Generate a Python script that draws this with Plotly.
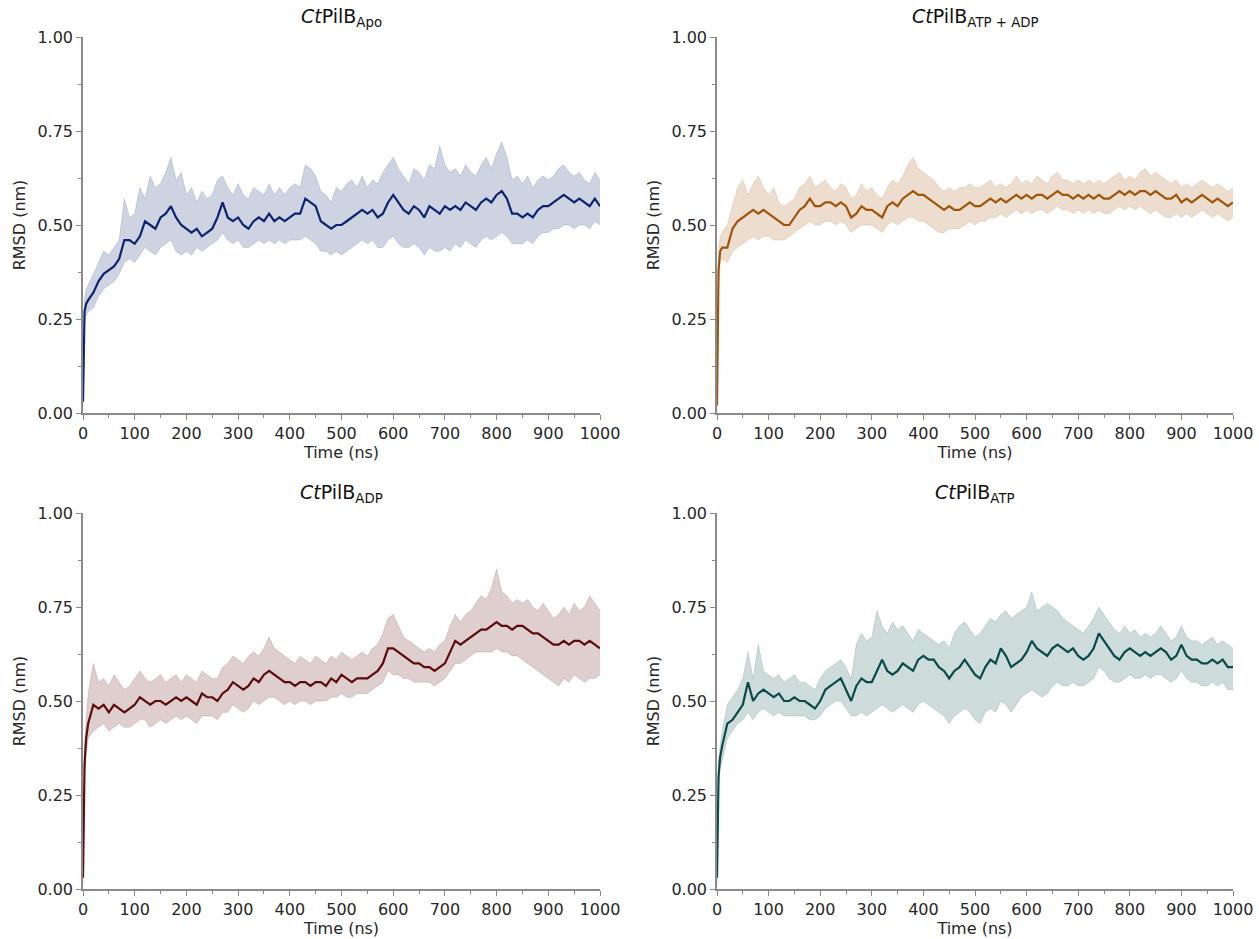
import plotly.graph_objects as go

# ---------------- data ----------------
TIME_NS = [0, 3, 6] + list(range(10, 1001, 10))

TITLES = ["<i>Ct</i>PilB<sub>Apo</sub>", "<i>Ct</i>PilB<sub>ATP + ADP</sub>",
          "<i>Ct</i>PilB<sub>ADP</sub>", "<i>Ct</i>PilB<sub>ATP</sub>"]

APO_MEAN = [0.03, 0.27, 0.29,
 0.30, 0.32, 0.35, 0.37, 0.38, 0.39, 0.41, 0.46, 0.46, 0.45,
 0.47, 0.51, 0.50, 0.49, 0.52, 0.53, 0.55, 0.52, 0.50, 0.49,
 0.48, 0.49, 0.47, 0.48, 0.49, 0.52, 0.56, 0.52, 0.51, 0.52,
 0.50, 0.49, 0.51, 0.52, 0.51, 0.53, 0.51, 0.52, 0.51, 0.52,
 0.53, 0.53, 0.57, 0.56, 0.55, 0.51, 0.50, 0.49, 0.50, 0.50,
 0.51, 0.52, 0.53, 0.54, 0.53, 0.54, 0.52, 0.53, 0.56, 0.58,
 0.56, 0.54, 0.53, 0.55, 0.54, 0.52, 0.55, 0.54, 0.53, 0.55,
 0.54, 0.55, 0.54, 0.56, 0.55, 0.54, 0.56, 0.57, 0.56, 0.58,
 0.59, 0.57, 0.53, 0.53, 0.52, 0.53, 0.52, 0.54, 0.55, 0.55,
 0.56, 0.57, 0.58, 0.57, 0.56, 0.57, 0.56, 0.55, 0.57, 0.55]
APO_UP = [0.05, 0.30, 0.33,
 0.34, 0.37, 0.40, 0.43, 0.42, 0.44, 0.46, 0.57, 0.52, 0.53,
 0.60, 0.57, 0.63, 0.60, 0.61, 0.64, 0.68, 0.62, 0.64, 0.58,
 0.60, 0.56, 0.59, 0.57, 0.58, 0.62, 0.63, 0.60, 0.58, 0.61,
 0.58, 0.57, 0.60, 0.59, 0.58, 0.61, 0.58, 0.60, 0.58, 0.60,
 0.61, 0.60, 0.66, 0.65, 0.63, 0.59, 0.58, 0.56, 0.60, 0.59,
 0.61, 0.62, 0.60, 0.63, 0.60, 0.62, 0.61, 0.64, 0.66, 0.68,
 0.65, 0.63, 0.61, 0.65, 0.64, 0.62, 0.66, 0.65, 0.71, 0.66,
 0.64, 0.65, 0.63, 0.66, 0.64, 0.63, 0.66, 0.68, 0.65, 0.69,
 0.72, 0.68, 0.62, 0.63, 0.61, 0.63, 0.60, 0.62, 0.63, 0.62,
 0.63, 0.65, 0.66, 0.64, 0.63, 0.64, 0.62, 0.61, 0.64, 0.62]
APO_LO = [0.01, 0.24, 0.26,
 0.27, 0.28, 0.31, 0.33, 0.34, 0.35, 0.37, 0.40, 0.41, 0.40,
 0.42, 0.44, 0.43, 0.42, 0.44, 0.45, 0.46, 0.43, 0.42, 0.43,
 0.42, 0.44, 0.43, 0.44, 0.45, 0.46, 0.48, 0.46, 0.45, 0.46,
 0.44, 0.44, 0.45, 0.46, 0.45, 0.46, 0.45, 0.46, 0.45, 0.46,
 0.46, 0.46, 0.47, 0.46, 0.45, 0.43, 0.43, 0.42, 0.43, 0.42,
 0.43, 0.44, 0.45, 0.46, 0.45, 0.46, 0.44, 0.44, 0.46, 0.47,
 0.45, 0.44, 0.44, 0.45, 0.44, 0.42, 0.44, 0.43, 0.43, 0.44,
 0.43, 0.45, 0.44, 0.46, 0.45, 0.44, 0.46, 0.47, 0.46, 0.47,
 0.48, 0.47, 0.45, 0.45, 0.45, 0.46, 0.45, 0.47, 0.48, 0.48,
 0.49, 0.49, 0.50, 0.50, 0.49, 0.50, 0.50, 0.49, 0.51, 0.50]

ATPADP_MEAN = [0.02, 0.38, 0.43,
 0.44, 0.44, 0.49, 0.51, 0.52, 0.53, 0.54, 0.53, 0.54, 0.53,
 0.52, 0.51, 0.50, 0.50, 0.52, 0.54, 0.55, 0.57, 0.55, 0.55,
 0.56, 0.56, 0.55, 0.56, 0.55, 0.52, 0.53, 0.55, 0.54, 0.54,
 0.53, 0.52, 0.55, 0.56, 0.55, 0.57, 0.58, 0.59, 0.58, 0.58,
 0.57, 0.56, 0.55, 0.54, 0.55, 0.54, 0.54, 0.55, 0.56, 0.55,
 0.55, 0.56, 0.57, 0.56, 0.57, 0.56, 0.57, 0.58, 0.57, 0.58,
 0.57, 0.58, 0.58, 0.57, 0.58, 0.59, 0.58, 0.58, 0.57, 0.58,
 0.57, 0.58, 0.57, 0.58, 0.57, 0.57, 0.58, 0.59, 0.58, 0.59,
 0.58, 0.59, 0.59, 0.58, 0.59, 0.58, 0.57, 0.57, 0.58, 0.56,
 0.57, 0.56, 0.57, 0.58, 0.57, 0.56, 0.57, 0.56, 0.55, 0.56]
ATPADP_UP = [0.04, 0.42, 0.47,
 0.48, 0.50, 0.55, 0.60, 0.62, 0.58, 0.61, 0.63, 0.60, 0.58,
 0.60, 0.56, 0.55, 0.56, 0.57, 0.60, 0.61, 0.63, 0.60, 0.61,
 0.62, 0.60, 0.59, 0.61, 0.60, 0.57, 0.58, 0.61, 0.59, 0.60,
 0.58, 0.57, 0.60, 0.62, 0.61, 0.63, 0.66, 0.68, 0.65, 0.64,
 0.63, 0.62, 0.60, 0.59, 0.60, 0.59, 0.60, 0.60, 0.61, 0.60,
 0.60, 0.61, 0.62, 0.60, 0.61, 0.60, 0.61, 0.63, 0.61, 0.62,
 0.61, 0.63, 0.62, 0.61, 0.63, 0.64, 0.62, 0.62, 0.61, 0.62,
 0.61, 0.62, 0.61, 0.62, 0.61, 0.62, 0.63, 0.64, 0.62, 0.63,
 0.62, 0.64, 0.65, 0.63, 0.64, 0.63, 0.62, 0.61, 0.62, 0.60,
 0.61, 0.60, 0.61, 0.62, 0.61, 0.60, 0.61, 0.60, 0.59, 0.60]
ATPADP_LO = [0.00, 0.34, 0.40,
 0.41, 0.40, 0.43, 0.44, 0.45, 0.46, 0.47, 0.46, 0.47, 0.47,
 0.46, 0.46, 0.46, 0.47, 0.48, 0.49, 0.50, 0.51, 0.50, 0.50,
 0.51, 0.51, 0.50, 0.51, 0.50, 0.48, 0.49, 0.50, 0.50, 0.50,
 0.49, 0.48, 0.50, 0.51, 0.50, 0.51, 0.52, 0.52, 0.51, 0.51,
 0.50, 0.49, 0.48, 0.48, 0.49, 0.49, 0.49, 0.50, 0.51, 0.50,
 0.51, 0.51, 0.52, 0.52, 0.53, 0.52, 0.53, 0.54, 0.53, 0.54,
 0.53, 0.54, 0.54, 0.53, 0.54, 0.55, 0.54, 0.54, 0.53, 0.54,
 0.53, 0.54, 0.53, 0.54, 0.53, 0.53, 0.54, 0.55, 0.54, 0.55,
 0.54, 0.55, 0.54, 0.53, 0.54, 0.53, 0.52, 0.52, 0.53, 0.52,
 0.53, 0.52, 0.53, 0.54, 0.53, 0.52, 0.53, 0.52, 0.51, 0.52]

ADP_MEAN = [0.03, 0.33, 0.40,
 0.44, 0.49, 0.48, 0.49, 0.47, 0.49, 0.48, 0.47, 0.48, 0.49,
 0.51, 0.50, 0.49, 0.50, 0.50, 0.49, 0.50, 0.51, 0.50, 0.51,
 0.50, 0.49, 0.52, 0.51, 0.51, 0.50, 0.52, 0.53, 0.55, 0.54,
 0.53, 0.54, 0.56, 0.55, 0.57, 0.58, 0.57, 0.56, 0.55, 0.55,
 0.54, 0.55, 0.55, 0.54, 0.55, 0.55, 0.54, 0.56, 0.55, 0.57,
 0.56, 0.55, 0.56, 0.56, 0.56, 0.57, 0.58, 0.60, 0.64, 0.64,
 0.63, 0.62, 0.61, 0.60, 0.60, 0.59, 0.59, 0.58, 0.59, 0.60,
 0.63, 0.66, 0.65, 0.66, 0.67, 0.68, 0.69, 0.69, 0.70, 0.71,
 0.70, 0.70, 0.69, 0.70, 0.70, 0.69, 0.68, 0.68, 0.67, 0.66,
 0.65, 0.65, 0.66, 0.65, 0.66, 0.66, 0.65, 0.66, 0.65, 0.64]
ADP_UP = [0.06, 0.38, 0.45,
 0.52, 0.60, 0.55, 0.56, 0.54, 0.57, 0.55, 0.53, 0.54, 0.56,
 0.58, 0.56, 0.55, 0.56, 0.57, 0.55, 0.56, 0.57, 0.55, 0.57,
 0.56, 0.55, 0.58, 0.57, 0.56, 0.56, 0.59, 0.60, 0.62, 0.61,
 0.60, 0.62, 0.63, 0.62, 0.64, 0.67, 0.64, 0.63, 0.62, 0.61,
 0.60, 0.62, 0.61, 0.60, 0.62, 0.61, 0.60, 0.62, 0.61, 0.63,
 0.62, 0.61, 0.62, 0.63, 0.62, 0.64, 0.65, 0.68, 0.72, 0.73,
 0.70, 0.67, 0.66, 0.65, 0.64, 0.63, 0.64, 0.63, 0.65, 0.66,
 0.70, 0.73, 0.71, 0.73, 0.74, 0.76, 0.78, 0.77, 0.80, 0.85,
 0.79, 0.78, 0.76, 0.77, 0.76, 0.77, 0.75, 0.74, 0.76, 0.74,
 0.72, 0.73, 0.75, 0.73, 0.76, 0.74, 0.75, 0.78, 0.76, 0.74]
ADP_LO = [0.01, 0.29, 0.36,
 0.40, 0.42, 0.43, 0.44, 0.42, 0.43, 0.44, 0.43, 0.43, 0.44,
 0.45, 0.45, 0.43, 0.44, 0.45, 0.44, 0.45, 0.46, 0.45, 0.46,
 0.45, 0.44, 0.46, 0.46, 0.46, 0.45, 0.47, 0.47, 0.49, 0.48,
 0.47, 0.48, 0.50, 0.49, 0.50, 0.51, 0.51, 0.50, 0.49, 0.50,
 0.49, 0.50, 0.50, 0.49, 0.50, 0.50, 0.50, 0.51, 0.51, 0.52,
 0.51, 0.51, 0.52, 0.52, 0.52, 0.53, 0.54, 0.55, 0.58, 0.57,
 0.57, 0.56, 0.56, 0.55, 0.55, 0.55, 0.55, 0.54, 0.55, 0.56,
 0.58, 0.60, 0.60, 0.61, 0.62, 0.63, 0.63, 0.63, 0.63, 0.64,
 0.63, 0.63, 0.62, 0.62, 0.61, 0.60, 0.59, 0.58, 0.57, 0.56,
 0.55, 0.54, 0.56, 0.55, 0.57, 0.56, 0.55, 0.56, 0.56, 0.57]

ATP_MEAN = [0.03, 0.30, 0.35,
 0.38, 0.44, 0.45, 0.47, 0.49, 0.55, 0.50, 0.52, 0.53, 0.52,
 0.51, 0.52, 0.50, 0.50, 0.51, 0.50, 0.50, 0.49, 0.48, 0.50,
 0.53, 0.54, 0.55, 0.56, 0.53, 0.50, 0.54, 0.56, 0.55, 0.55,
 0.58, 0.61, 0.58, 0.57, 0.58, 0.60, 0.59, 0.58, 0.61, 0.62,
 0.61, 0.61, 0.59, 0.58, 0.56, 0.58, 0.59, 0.61, 0.59, 0.57,
 0.56, 0.59, 0.61, 0.60, 0.64, 0.62, 0.59, 0.60, 0.61, 0.63,
 0.66, 0.64, 0.63, 0.62, 0.64, 0.65, 0.64, 0.63, 0.64, 0.62,
 0.61, 0.62, 0.64, 0.68, 0.66, 0.64, 0.62, 0.61, 0.63, 0.64,
 0.63, 0.62, 0.63, 0.62, 0.63, 0.64, 0.63, 0.61, 0.62, 0.65,
 0.62, 0.61, 0.61, 0.60, 0.60, 0.61, 0.60, 0.61, 0.59, 0.59]
ATP_UP = [0.05, 0.34, 0.38,
 0.42, 0.49, 0.51, 0.53, 0.56, 0.63, 0.56, 0.65, 0.58, 0.57,
 0.56, 0.57, 0.55, 0.56, 0.57, 0.55, 0.55, 0.54, 0.53, 0.56,
 0.58, 0.59, 0.60, 0.61, 0.59, 0.56, 0.65, 0.68, 0.66, 0.67,
 0.74, 0.70, 0.68, 0.71, 0.69, 0.70, 0.68, 0.66, 0.69, 0.68,
 0.67, 0.66, 0.65, 0.66, 0.64, 0.68, 0.70, 0.71, 0.69, 0.67,
 0.68, 0.70, 0.72, 0.71, 0.73, 0.74, 0.72, 0.73, 0.74, 0.75,
 0.79, 0.74, 0.75, 0.76, 0.75, 0.74, 0.72, 0.71, 0.70, 0.69,
 0.68, 0.70, 0.72, 0.75, 0.73, 0.71, 0.69, 0.68, 0.70, 0.68,
 0.69, 0.67, 0.68, 0.67, 0.68, 0.70, 0.68, 0.66, 0.67, 0.70,
 0.67, 0.66, 0.66, 0.65, 0.66, 0.67, 0.65, 0.66, 0.65, 0.64]
ATP_LO = [0.01, 0.27, 0.32,
 0.34, 0.40, 0.42, 0.44, 0.45, 0.47, 0.45, 0.47, 0.48, 0.47,
 0.46, 0.47, 0.46, 0.46, 0.46, 0.46, 0.46, 0.45, 0.45, 0.46,
 0.48, 0.49, 0.50, 0.50, 0.48, 0.46, 0.46, 0.47, 0.46, 0.47,
 0.48, 0.49, 0.48, 0.47, 0.48, 0.49, 0.48, 0.47, 0.49, 0.50,
 0.49, 0.48, 0.47, 0.46, 0.44, 0.46, 0.47, 0.48, 0.47, 0.45,
 0.44, 0.47, 0.48, 0.47, 0.50, 0.49, 0.47, 0.49, 0.51, 0.52,
 0.53, 0.52, 0.51, 0.52, 0.54, 0.55, 0.54, 0.54, 0.55, 0.54,
 0.54, 0.55, 0.56, 0.59, 0.58, 0.56, 0.55, 0.55, 0.56, 0.57,
 0.56, 0.56, 0.57, 0.56, 0.57, 0.57, 0.56, 0.55, 0.56, 0.58,
 0.56, 0.55, 0.55, 0.54, 0.54, 0.55, 0.54, 0.55, 0.53, 0.53]

LINE_COLORS = ["rgb(12,36,112)", "rgb(160,84,8)", "rgb(92,12,10)", "rgb(8,74,74)"]
BAND_RGB = ["12,36,112", "160,84,8", "92,12,10", "8,74,74"]

SERIES = [(APO_MEAN, APO_LO, APO_UP), (ATPADP_MEAN, ATPADP_LO, ATPADP_UP),
          (ADP_MEAN, ADP_LO, ADP_UP), (ATP_MEAN, ATP_LO, ATP_UP)]

# ---------------- layout geometry ----------------
W, H = 1259, 939
XDOM = [[83 / W, 600 / W], [717 / W, 1233 / W]]
YDOM = [[1 - 413 / H, 1 - 37 / H], [1 - 889 / H, 1 - 513 / H]]
AXIS_GRAY = "#8a8a8a"
TXT = "#262626"
FONT = "DejaVu Sans"

fig = go.Figure()
for i, (mean, lo, up) in enumerate(SERIES):
    ax = "" if i == 0 else str(i + 1)
    xr, yr = "x" + ax, "y" + ax
    rgb = BAND_RGB[i]
    fig.add_trace(go.Scatter(x=TIME_NS, y=up, mode="lines", xaxis=xr, yaxis=yr,
                             line=dict(color=f"rgba({rgb},0.22)", width=0.7),
                             showlegend=False, hoverinfo="skip"))
    fig.add_trace(go.Scatter(x=TIME_NS, y=lo, mode="lines", xaxis=xr, yaxis=yr,
                             fill="tonexty", fillcolor=f"rgba({rgb},0.2)",
                             line=dict(color=f"rgba({rgb},0.22)", width=0.7),
                             showlegend=False, hoverinfo="skip"))
    fig.add_trace(go.Scatter(x=TIME_NS, y=mean, mode="lines", xaxis=xr, yaxis=yr,
                             line=dict(color=LINE_COLORS[i], width=2.2),
                             showlegend=False))

    col, row = i % 2, i // 2
    common = dict(showline=True, linecolor=AXIS_GRAY, linewidth=1.5, ticks="outside",
                  tickcolor=AXIS_GRAY, ticklen=5, tickwidth=1.3, showgrid=False,
                  zeroline=False, automargin=False,
                  tickfont=dict(family=FONT, size=16, color=TXT),
                  title_font=dict(family=FONT, size=16, color=TXT))
    fig.layout["xaxis" + ax] = dict(
        domain=XDOM[col], anchor=yr, range=[0, 1000], tick0=0, dtick=100,
        minor=dict(dtick=50, ticks="outside", ticklen=3, tickcolor=AXIS_GRAY, tickwidth=1),
        title=dict(text="Time (ns)", standoff=0), **common)
    fig.layout["yaxis" + ax] = dict(
        domain=YDOM[row], anchor=xr, range=[0, 1], tick0=0, dtick=0.25, tickformat=".2f",
        minor=dict(dtick=0.125, ticks="outside", ticklen=3, tickcolor=AXIS_GRAY, tickwidth=1),
        title=dict(text="RMSD (nm)", standoff=8), **common)
    fig.add_annotation(text=TITLES[i], xref="paper", yref="paper",
                       x=(XDOM[col][0] + XDOM[col][1]) / 2, y=YDOM[row][1] + 0.005,
                       xanchor="center", yanchor="bottom", showarrow=False,
                       font=dict(family=FONT, size=19, color="#111111"))

fig.update_layout(width=W, height=H, margin=dict(l=0, r=0, t=0, b=0),
                  paper_bgcolor="white", plot_bgcolor="white",
                  font=dict(family=FONT, color=TXT))
fig.write_html("out.html", config={"displayModeBar": False},
               post_script="document.body.style.margin='0';document.body.style.overflow='hidden';")
